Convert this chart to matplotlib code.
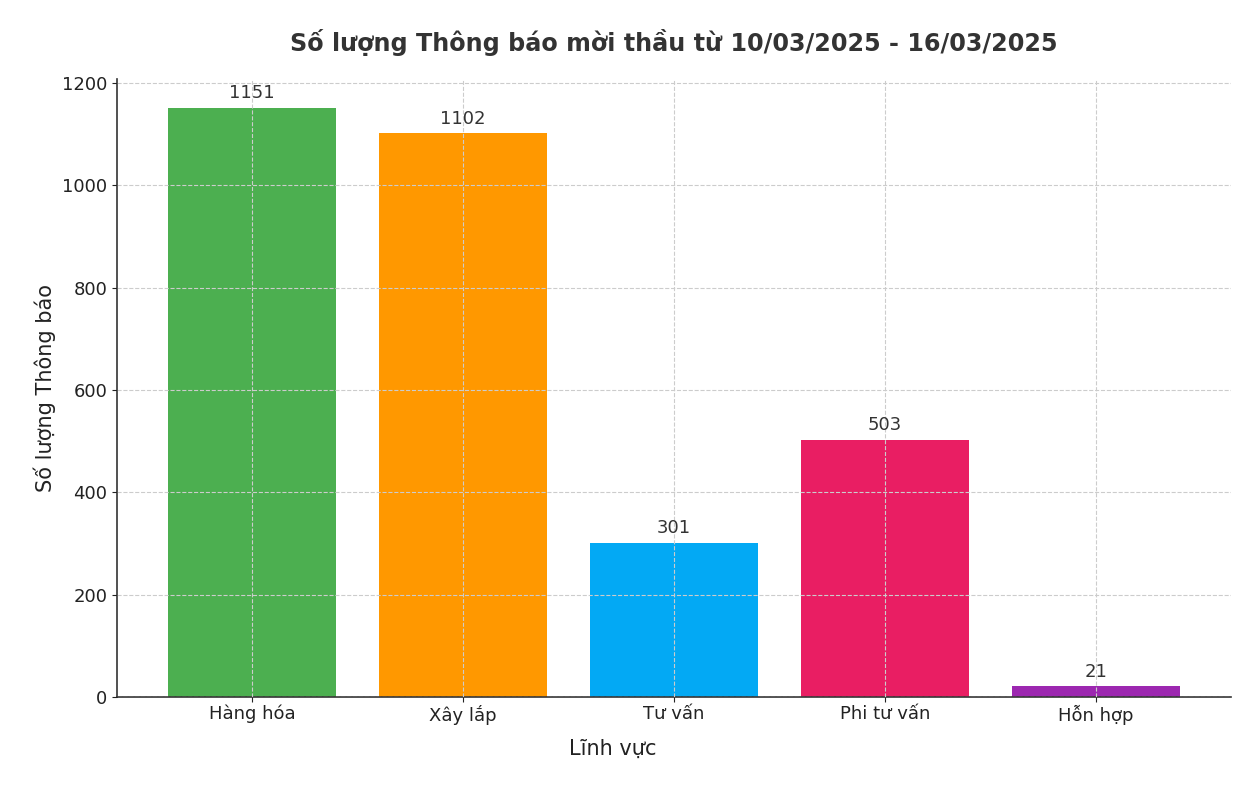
import matplotlib.pyplot as plt

linh_vuc = ["Hàng hóa", "Xây lắp", "Tư vấn", "Phi tư vấn", "Hỗn hợp"]
so_luong = [1151, 1102, 301, 503, 21]
mau = ["#4CAF50", "#FF9800", "#03A9F4", "#E91E63", "#9C27B0"]

fig = plt.figure(figsize=(12.4, 7.85), dpi=100)
ax = fig.add_axes([0.0944, 0.1121, 0.8983, 0.7878])

bars = ax.bar(linh_vuc, so_luong, color=mau, width=0.8, zorder=1)

for b, v in zip(bars, so_luong):
    ax.annotate(str(v), (b.get_x() + b.get_width() / 2, v),
                xytext=(0, 4), textcoords="offset points",
                ha="center", va="bottom", fontsize=13, color="#333333")

ax.set_ylim(0, max(so_luong) * 1.05)
ax.grid(True, linestyle="--", color="#cccccc", linewidth=0.8, zorder=2)
ax.set_axisbelow(False)

ax.spines["top"].set_visible(False)
ax.spines["right"].set_visible(False)
ax.spines["left"].set_color("#333333")
ax.spines["bottom"].set_color("#333333")
ax.spines["left"].set_linewidth(1.2)
ax.spines["bottom"].set_linewidth(1.2)
ax.tick_params(labelsize=13, colors="#222222")
ax.tick_params(axis="x", pad=2)

ax.set_title("Số lượng Thông báo mời thầu từ 10/03/2025 - 16/03/2025",
             fontsize=17.2, fontweight="bold", color="#333333", pad=20)
ax.set_xlabel("Lĩnh vực", fontsize=15, color="#222222", labelpad=10, x=0.445)
ax.set_ylabel("Số lượng Thông báo", fontsize=15, color="#222222", labelpad=4)

fig.savefig("out.png", dpi=100)
